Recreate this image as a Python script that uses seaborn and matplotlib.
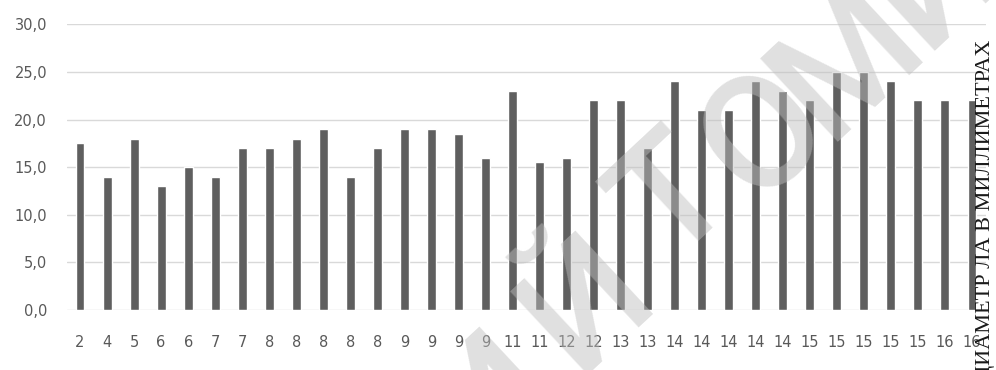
import matplotlib
matplotlib.use("Agg")
import matplotlib.pyplot as plt
from matplotlib.ticker import FuncFormatter
import numpy as np
import pandas as pd
import seaborn as sns

# Category labels (age groups) and measured diameters for each tree
age_labels = ["2", "4", "5", "6", "6", "7", "7", "8", "8", "8", "8", "8",
              "9", "9", "9", "9", "11", "11", "12", "12", "13", "13",
              "14", "14", "14", "14", "14", "15", "15", "15", "15", "15",
              "16", "16"]
diameters = [17.5, 14.0, 18.0, 13.0, 15.0, 14.0, 17.0, 17.0, 18.0, 19.0,
             14.0, 17.0, 19.0, 19.0, 18.5, 16.0, 23.0, 15.5, 16.0, 22.0,
             22.0, 17.0, 24.0, 21.0, 21.0, 24.0, 23.0, 22.0, 25.0, 25.0,
             24.0, 22.0, 22.0, 22.0]
y_ticks = [0, 5, 10, 15, 20, 25, 30]
side_title = "ДИАМЕТР ЛА В МИЛЛИМЕТРАХ"
mark_letters = ["И", "Й", "Т", "О", "М", "И"]

W, H = 996, 370
sns.set_style("white")
plt.rcParams["font.family"] = ["DejaVu Sans"]

df = pd.DataFrame({"idx": np.arange(len(diameters)), "value": diameters})

fig = plt.figure(figsize=(W / 100, H / 100), dpi=100)
ax = fig.add_axes([66.5 / W, 1 - 310 / H, (985.5 - 66.5) / W, (310 - 24.3) / H])

sns.barplot(data=df, x="idx", y="value", color="#5f5f5f", saturation=1,
            width=0.33, ax=ax, errorbar=None)

ax.set_ylim(0, 30)
ax.set_xlim(-0.5, len(diameters) - 0.5)
ax.set_yticks(y_ticks)
ax.yaxis.set_major_formatter(FuncFormatter(lambda v, _: f"{v:.1f}".replace(".", ",")))
ax.set_xticks(np.arange(len(age_labels)))
ax.set_xticklabels(age_labels)
ax.set_xlabel("")
ax.set_ylabel("")

ax.yaxis.grid(True, color="#d9d9d9", linewidth=1.0)
ax.set_axisbelow(True)
for s in ax.spines.values():
    s.set_visible(False)
ax.tick_params(axis="both", length=0, labelsize=10.5, colors="#595959")
ax.tick_params(axis="y", pad=14)
ax.tick_params(axis="x", pad=18)

# Rotated caption along the right edge
fig.text(985 / W, 1 - 40 / H, side_title, rotation=90, ha="center", va="top",
         family="Liberation Serif", fontsize=16, color="#1a1a1a")

# Large translucent diagonal lettering across the plot
mark_centers = [(492, 400), (588, 304), (675, 200), (765, 135), (848, 62), (935, -20)]
for ch, (px, py) in zip(mark_letters, mark_centers):
    fig.text(px / W, 1 - py / H, ch, rotation=43, rotation_mode="anchor",
             ha="center", va="center", fontsize=115, fontweight="medium",
             family="Roboto", color="#bebebe", alpha=0.47, zorder=10)

fig.savefig("out.png", dpi=100, facecolor="white")
